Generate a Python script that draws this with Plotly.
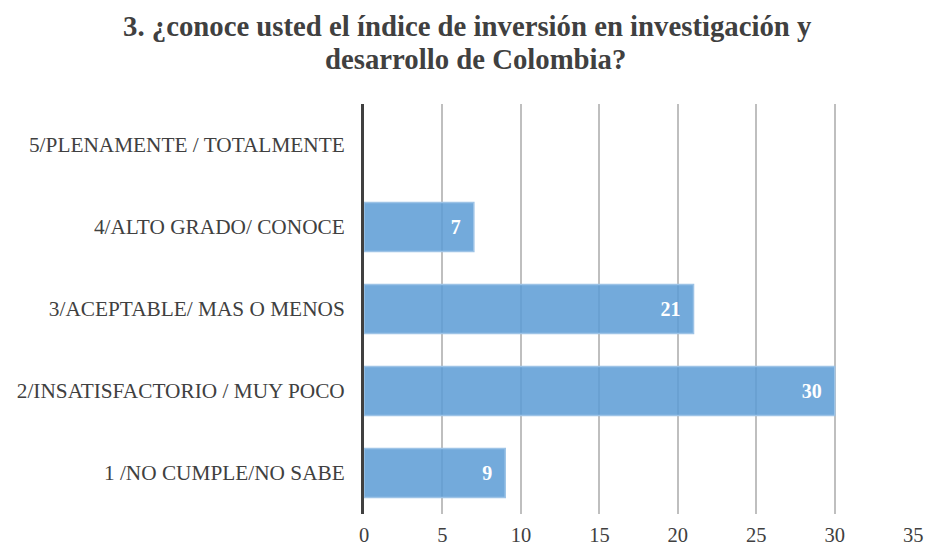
import plotly.graph_objects as go

categories = ["1 /NO CUMPLE/NO SABE", "2/INSATISFACTORIO / MUY POCO",
              "3/ACEPTABLE/ MAS O MENOS", "4/ALTO GRADO/ CONOCE",
              "5/PLENAMENTE / TOTALMENTE"]
values = [9, 30, 21, 7, None]
labels = ["9", "30", "21", "7", ""]
x_ticks = [0, 5, 10, 15, 20, 25, 30, 35]
title_lines = ["3. ¿conoce usted el índice de inversión en investigación y",
               "desarrollo de Colombia?"]

SERIF = "Liberation Serif"

fig = go.Figure(go.Bar(
    x=values, y=categories, orientation="h",
    text=labels, textposition="inside", insidetextanchor="end",
    texttemplate="%{text}\u00a0\u00a0",
    textfont=dict(family=SERIF, size=20, color="white", weight="bold"),
    marker=dict(color="rgba(91,155,213,0.85)", line=dict(color="#9dc3e6", width=1.5)),
    width=0.6, hoverinfo="skip",
))

fig.update_layout(
    width=929, height=548,
    margin=dict(l=364, r=15, t=104, b=34),
    paper_bgcolor="white", plot_bgcolor="white",
    font=dict(family=SERIF, size=21, color="#404040"),
    showlegend=False,
)
fig.add_annotation(text=title_lines[0], xref="paper", yref="paper", x=0.188, y=1.19,
                   xanchor="center", yanchor="middle", showarrow=False,
                   font=dict(family=SERIF, size=28.75, color="#404040", weight="bold"))
fig.add_annotation(text=title_lines[1], xref="paper", yref="paper", x=0.202, y=1.109,
                   xanchor="center", yanchor="middle", showarrow=False,
                   font=dict(family=SERIF, size=28.75, color="#404040", weight="bold"))
fig.update_xaxes(range=[0, 35.05], tickvals=x_ticks, showgrid=True, gridcolor="#bfbfbf",
                 gridwidth=1.5, zeroline=False, showline=False, ticks="",
                 automargin=False, ticklabelstandoff=6,
                 tickfont=dict(family=SERIF, size=20.5, color="#404040"))
fig.update_yaxes(showline=True, linecolor="#404040", linewidth=3, ticks="",
                 showgrid=False, ticklabelstandoff=12, automargin=False,
                 tickfont=dict(family=SERIF, size=21.3, color="#404040"))

fig.write_html("out.html", config={"displayModeBar": False},
               post_script="document.body.style.margin='0';")
